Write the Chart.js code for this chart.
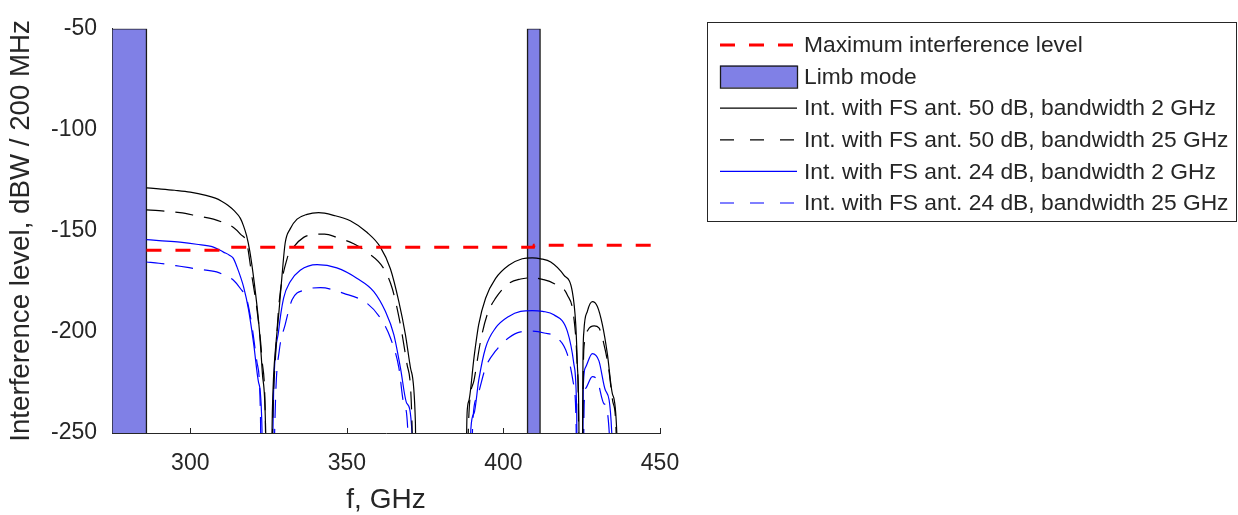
<!DOCTYPE html>
<html>
<head>
<meta charset="utf-8">
<script src="https://cdn.jsdelivr.net/npm/chart.js@4.4.1/dist/chart.umd.min.js"></script>
<style>
  html, body { margin: 0; padding: 0; background: #fff; }
</style>
</head>
<body>
<canvas id="grafico" width="1238" height="515"></canvas>
<script>
// ---- data (frequency in GHz, level in dBW / 200 MHz) ----
// null = break between lobes, -300 = plunges below the axis
const xTicks = [300, 350, 400, 450];
const yTicks = [-250, -200, -150, -100, -50];

const limbBands = [[275, 286], [407.7, 411.7]];

const freqMaxLevel = [286, 312, 312.3, 409.6, 409.8, 450];
const maxLevel     = [-159.6, -159.6, -158.1, -158.1, -157.1, -157.1];

const freqFS50bw2 = [
  286, 290, 295, 300, 305, 308, 310, 312, 314, 316, 317, 318, 319, 320, 321, 322, 323, 324, 324.5,
  325,
  325.6, 326.2, 326.6, 327.4, 328.2, 329.3, 330.3, 331.9, 334.1, 337.3, 341, 345.8, 351.1, 356.4, 360.7, 363.9, 366.6, 368.7, 370.3, 371.9, 372.3,
  380,
  387.8, 388.4, 389, 390.6, 392.1, 394.3, 397.5, 401.7, 406, 409.2, 412, 415.1, 419.3, 422, 423.1, 423.6, 424.1, 424.3,
  424.8,
  425.1, 425.4, 425.7, 426.8, 428.4, 430, 431.6, 433.2, 434.8, 436.2, 436.5
];
const levelFS50bw2 = [
  -128.7, -129.2, -129.9, -130.8, -132.4, -133.8, -135.3, -137.3, -140, -143.8, -147.5, -152.5, -160, -170.5, -183, -198, -220, -245, -300,
  null,
  -300, -240, -222, -205, -192, -172, -156, -149, -144.2, -141.8, -141, -142.3, -145, -150.7, -158, -168.7, -185, -201.3, -217.6, -245.3, -300,
  null,
  -300, -240, -233.9, -212.7, -196.4, -183.3, -173.5, -167, -163.8, -163.3, -163.8, -165.4, -171.9, -180, -196.4, -215.9, -245, -300,
  null,
  -300, -215, -199.6, -189.8, -185, -187.4, -196.4, -211, -230.6, -250, -300
];

const freqFS50bw25 = [
  286, 290, 296.7, 302, 307.4, 311, 313.8, 316, 318.1, 319.7, 321.3, 322.9, 324, 324.4,
  325,
  325.7, 326.4, 327.3, 328.4, 330.9, 333, 336.2, 339.5, 342.9, 346.8, 352.2, 356.4, 361.8, 364.5, 367.1, 369.2, 370.8, 371.2,
  380,
  388, 389, 390.6, 392.7, 394.8, 397.5, 401.7, 405.5, 409.2, 412.5, 416.1, 420.4, 422.5, 423.5, 424, 424.2,
  424.8,
  425.2, 425.5, 425.9, 427, 429, 430.5, 432.1, 433.6, 435, 436, 436.3
];
const levelFS50bw25 = [
  -139.6, -140, -141, -142.5, -144.2, -146.2, -148.3, -151.6, -156.4, -172.7, -189, -213.5, -245, -300,
  null,
  -300, -240, -210, -185, -163.8, -158, -153.2, -151.8, -151.6, -153.2, -156.4, -160.5, -168.7, -178.5, -196.4, -215.9, -245, -300,
  null,
  -300, -240, -224, -204.5, -191.5, -183.3, -176, -173.8, -173.2, -174, -176, -181.7, -193.1, -215, -245, -300,
  null,
  -300, -220, -205, -199, -197, -198, -206.1, -218, -235, -250, -300
];

const freqFS24bw2 = [
  286, 290, 296.7, 302, 307.4, 310.6, 312.5, 313.7, 314.9, 317, 318.6, 320.2, 321.8, 322.9, 323.1,
  325,
  325.9, 326.6, 328.2, 329.8, 331.9, 335.1, 340.5, 346.8, 353.3, 358.6, 362.3, 365, 367.1, 369.2, 370.8, 371,
  380,
  389.2, 389.6, 390.6, 392.1, 394.3, 397.5, 401.7, 405.5, 409.2, 412.5, 416.1, 420.4, 422.5, 423.4, 423.7,
  424.8,
  425.2, 425.5, 426.2, 428.4, 430.5, 432.6, 434.6, 434.9
];
const levelFS24bw2 = [
  -154.3, -154.8, -155.6, -156.6, -158, -160.5, -162, -163.5, -167.8, -177.6, -189, -205.4, -224.9, -248, -300,
  null,
  -300, -230, -199.6, -183.3, -175.2, -169.5, -166.7, -168.3, -173.5, -180, -189.8, -201.3, -217.6, -235.5, -250, -300,
  null,
  -300, -248, -240.4, -224, -207.8, -198, -192.3, -189.8, -189.4, -189.8, -191.5, -199.6, -215.9, -240, -300,
  null,
  -300, -227.4, -217.6, -210.7, -214.3, -229, -250, -300
];

const freqFS24bw25 = [
  286, 290, 296.7, 302, 308.4, 311, 313.8, 316, 318.1, 319.7, 321.3, 322.4, 322.7,
  325,
  326.2, 327.3, 328.4, 330.3, 332.5, 336.7, 341.6, 349, 356.4, 360.7, 363.9, 366.6, 368.2, 369.5, 369.8,
  380,
  389.6, 390.2, 391.6, 394.3, 397.5, 401.7, 405.5, 409.2, 413, 417.2, 420.4, 422.3, 423.2, 423.5,
  424.8,
  425.4, 425.8, 426.5, 428.4, 430, 432.1, 433.8, 434
];
const levelFS24bw25 = [
  -165.4, -166, -167.5, -168.8, -170.3, -172, -174.4, -178.5, -184.1, -197.2, -215.1, -240, -300,
  null,
  -300, -230, -209.4, -196.4, -184.1, -179.2, -178.1, -180.9, -185.8, -193.1, -202.9, -217.6, -235.5, -250, -300,
  null,
  -300, -245, -232.2, -217.6, -209.4, -202.9, -200, -199.6, -200.5, -202.9, -211, -225, -245, -300,
  null,
  -300, -235, -227.4, -222.1, -224, -235.5, -250, -300
];

const seriesLabels = [
  'Maximum interference level',
  'Limb mode',
  'Int. with FS ant. 50 dB, bandwidth 2 GHz',
  'Int. with FS ant. 50 dB, bandwidth 25 GHz',
  'Int. with FS ant. 24 dB, bandwidth 2 GHz',
  'Int. with FS ant. 24 dB, bandwidth 25 GHz'
];

const yMin = -250, yMax = -50;
const xMin = 275, xMax = 450;

// ---- helpers ----
const FONTE = "'Liberation Sans', Arial, sans-serif";
const CINZA = '#262626';
const AZUL_LIMBO = 'rgb(128,128,230)';

function pontos(xs, ys) {
  return xs.map((x, i) => ({ x: x, y: ys[i] }));
}

function curva(label, xs, ys, cor, tracejado) {
  return {
    label: label,
    data: pontos(xs, ys),
    borderColor: cor,
    borderWidth: 1.2,
    borderDash: tracejado ? [18, 11] : [],
    pointRadius: 0,
    cubicInterpolationMode: 'monotone',
    spanGaps: false,
    fill: false
  };
}

// bands go from bottom to top of the axis
function faixaLimbo(banda) {
  return {
    label: seriesLabels[1],
    data: [
      { x: banda[0], y: yMin }, { x: banda[0], y: yMax },
      { x: banda[1], y: yMax }, { x: banda[1], y: yMin }
    ],
    borderColor: '#1a1a1a',
    borderWidth: 1.3,
    backgroundColor: AZUL_LIMBO,
    fill: 'start',
    pointRadius: 0,
    tension: 0
  };
}

// ---- legend box drawn on the canvas (outside the axes, like the original) ----
const legendaCaixa = {
  id: 'legendaCaixa',
  afterDraw(chart) {
    const ctx = chart.ctx;
    const caixa = { x: 707.5, y: 22.5, w: 529, h: 199 };
    const y0 = 45, passo = 31.6;
    const amostraX0 = 720, amostraX1 = 797, textoX = 804;
    ctx.save();
    ctx.fillStyle = '#fff';
    ctx.fillRect(caixa.x, caixa.y, caixa.w, caixa.h);
    ctx.strokeStyle = CINZA;
    ctx.lineWidth = 1;
    ctx.strokeRect(caixa.x, caixa.y, caixa.w, caixa.h);

    const estilos = [
      { cor: '#ff0000', largura: 3, dash: [15, 14] },
      null,
      { cor: '#000000', largura: 1.2, dash: [] },
      { cor: '#000000', largura: 1.2, dash: [14, 16] },
      { cor: '#0000ff', largura: 1.2, dash: [] },
      { cor: '#0000ff', largura: 1.2, dash: [14, 16] }
    ];

    seriesLabels.forEach((txt, i) => {
      const y = y0 + i * passo;
      const e = estilos[i];
      if (e) {
        ctx.beginPath();
        ctx.strokeStyle = e.cor;
        ctx.lineWidth = e.largura;
        ctx.setLineDash(e.dash);
        ctx.moveTo(amostraX0, y);
        ctx.lineTo(amostraX1, y);
        ctx.stroke();
        ctx.setLineDash([]);
      } else {
        ctx.fillStyle = AZUL_LIMBO;
        ctx.fillRect(amostraX0, y - 11, amostraX1 - amostraX0, 22);
        ctx.strokeStyle = '#1a1a1a';
        ctx.lineWidth = 1.3;
        ctx.strokeRect(amostraX0 + 0.5, y - 11 + 0.5, amostraX1 - amostraX0, 22);
      }
      ctx.fillStyle = CINZA;
      ctx.font = '22.8px ' + FONTE;
      ctx.textAlign = 'left';
      ctx.textBaseline = 'middle';
      ctx.fillText(txt, textoX, y + 1);
    });
    ctx.restore();
  }
};

// ---- small inward ticks (MATLAB style) ----
const marcasInternas = {
  id: 'marcasInternas',
  beforeDatasetsDraw(chart) {
    const ctx = chart.ctx;
    const { x, y } = chart.scales;
    const area = chart.chartArea;
    ctx.save();
    ctx.strokeStyle = CINZA;
    ctx.lineWidth = 1;
    xTicks.forEach(v => {
      const px = Math.round(x.getPixelForValue(v)) + 0.5;
      ctx.beginPath();
      ctx.moveTo(px, area.bottom);
      ctx.lineTo(px, area.bottom - 5);
      ctx.stroke();
    });
    yTicks.forEach(v => {
      const py = Math.round(y.getPixelForValue(v)) + 0.5;
      ctx.beginPath();
      ctx.moveTo(area.left, py);
      ctx.lineTo(area.left + 5, py);
      ctx.stroke();
    });
    ctx.restore();
  }
};

const ctx = document.getElementById('grafico').getContext('2d');

// first dataset is drawn on top
new Chart(ctx, {
  type: 'line',
  data: {
    datasets: [
      {
        label: seriesLabels[0],
        data: pontos(freqMaxLevel, maxLevel),
        borderColor: '#ff0000',
        borderWidth: 3,
        borderDash: [15, 14],
        pointRadius: 0,
        tension: 0,
        fill: false
      },
      curva(seriesLabels[2], freqFS50bw2, levelFS50bw2, '#000000', false),
      curva(seriesLabels[3], freqFS50bw25, levelFS50bw25, '#000000', true),
      curva(seriesLabels[4], freqFS24bw2, levelFS24bw2, '#0000ff', false),
      curva(seriesLabels[5], freqFS24bw25, levelFS24bw25, '#0000ff', true),
      faixaLimbo(limbBands[0]),
      faixaLimbo(limbBands[1])
    ]
  },
  options: {
    responsive: false,
    animation: false,
    layout: { padding: { top: 24, right: 578, bottom: 0, left: 0 } },
    plugins: {
      legend: { display: false },
      tooltip: { enabled: false }
    },
    scales: {
      x: {
        type: 'linear',
        min: xMin,
        max: xMax,
        afterBuildTicks: s => { s.ticks = xTicks.map(v => ({ value: v })); },
        afterFit: s => { s.height = 82; },
        grid: { display: false, drawTicks: false },
        border: { display: true, color: CINZA, width: 1 },
        ticks: {
          color: CINZA,
          padding: 17,
          maxRotation: 0,
          font: { family: FONTE, size: 23 }
        },
        title: {
          display: true,
          text: 'f, GHz',
          color: CINZA,
          padding: { top: 0, bottom: 1 },
          font: { family: FONTE, size: 28, lineHeight: 1.0 }
        }
      },
      y: {
        type: 'linear',
        min: yMin,
        max: yMax,
        afterBuildTicks: s => { s.ticks = yTicks.map(v => ({ value: v })); },
        afterFit: s => { s.width = 112; },
        grid: { display: false, drawTicks: false },
        border: { display: true, color: CINZA, width: 1 },
        ticks: {
          color: CINZA,
          padding: 15,
          font: { family: FONTE, size: 23 }
        },
        title: {
          display: true,
          text: 'Interference level, dBW / 200 MHz',
          color: CINZA,
          padding: { top: 8, bottom: 0 },
          font: { family: FONTE, size: 27.7, lineHeight: 1.0 }
        }
      }
    }
  },
  plugins: [marcasInternas, legendaCaixa]
});
</script>
</body>
</html>
